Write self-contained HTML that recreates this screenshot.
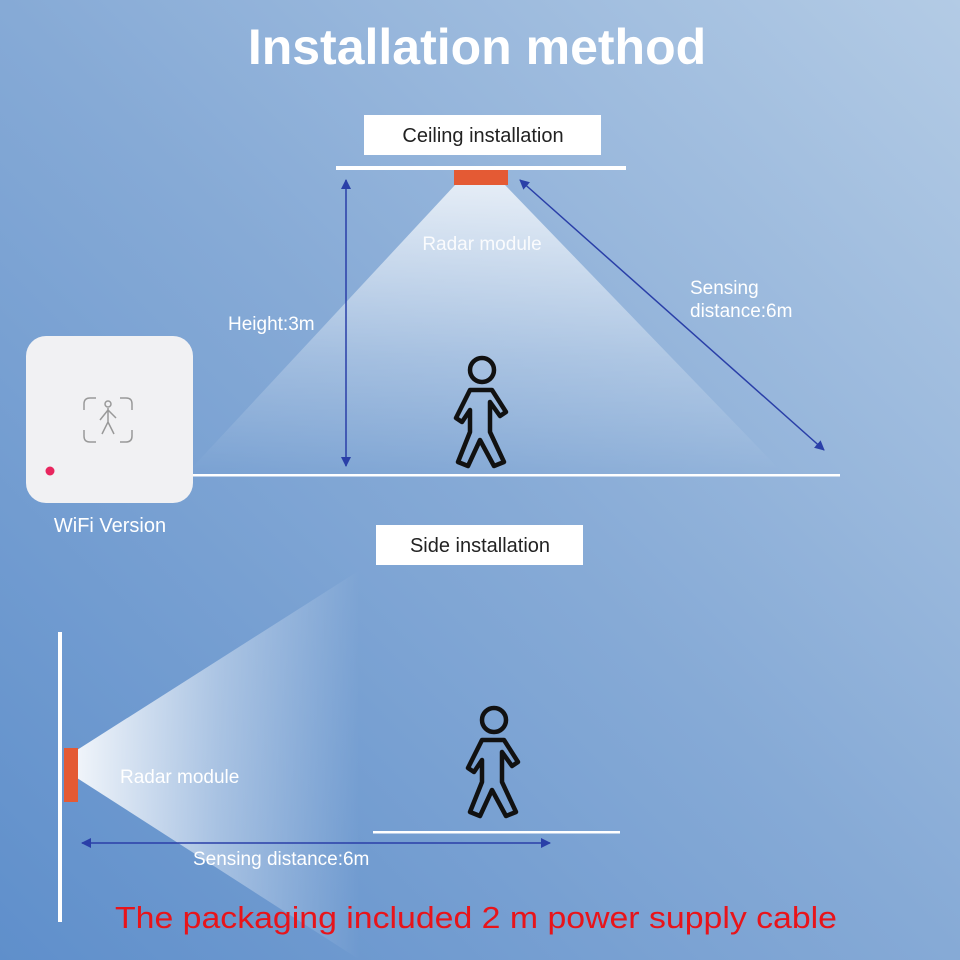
<!DOCTYPE html>
<html><head><meta charset="utf-8"><style>
html,body{margin:0;padding:0;width:960px;height:960px;overflow:hidden}
svg{display:block}
text{font-family:"Liberation Sans",sans-serif}
</style></head><body>
<svg width="960" height="960" viewBox="0 0 960 960" xmlns="http://www.w3.org/2000/svg">
<defs>
<linearGradient id="bg" x1="0" y1="1" x2="1" y2="0">
<stop offset="0" stop-color="#5f8fcb"/>
<stop offset="0.5" stop-color="#86aad6"/>
<stop offset="1" stop-color="#b3cbe5"/>
</linearGradient>
<linearGradient id="beam1" x1="0" y1="0" x2="0" y2="1">
<stop offset="0" stop-color="#ffffff" stop-opacity="0.75"/>
<stop offset="0.6" stop-color="#ffffff" stop-opacity="0.25"/>
<stop offset="1" stop-color="#ffffff" stop-opacity="0"/>
</linearGradient>
<linearGradient id="beam2" x1="77" y1="0" x2="360" y2="0" gradientUnits="userSpaceOnUse">
<stop offset="0" stop-color="#ffffff" stop-opacity="0.9"/>
<stop offset="0.5" stop-color="#ffffff" stop-opacity="0.4"/>
<stop offset="1" stop-color="#ffffff" stop-opacity="0"/>
</linearGradient>
<marker id="ar" markerWidth="10" markerHeight="10" refX="9" refY="5" orient="auto" markerUnits="userSpaceOnUse">
<path d="M0,0 L10,5 L0,10 z" fill="#2a3fa8"/>
</marker>
<marker id="al" markerWidth="10" markerHeight="10" refX="1" refY="5" orient="auto" markerUnits="userSpaceOnUse">
<path d="M10,0 L0,5 L10,10 z" fill="#2a3fa8"/>
</marker>
<g id="man" fill="none" stroke="#111" stroke-width="4.5" stroke-linejoin="round" stroke-linecap="round">
<circle cx="0" cy="0" r="12"/>
<path d="M-12,20 L10,20 L24,42 L18,46 L8,32 L8,62 L22,92 L12,96 L-2,70 L-14,96 L-24,92 L-12,62 L-12,40 L-20,52 L-26,48 Z"/>
</g>
</defs>
<rect width="960" height="960" fill="url(#bg)"/>
<text x="477" y="64" text-anchor="middle" font-size="50" font-weight="bold" fill="#fff">Installation method</text>
<rect x="364" y="115" width="237" height="40" fill="#fff"/>
<text x="483" y="142" text-anchor="middle" font-size="20" fill="#222">Ceiling installation</text>
<rect x="336" y="166" width="290" height="4" fill="#fff"/>
<polygon points="455,185 505,185 780,470 190,470" fill="url(#beam1)"/>
<rect x="454" y="170" width="54" height="15" fill="#e45a34"/>
<text x="482" y="250" text-anchor="middle" font-size="19" fill="#fff" opacity="0.9">Radar module</text>
<line x1="346" y1="180" x2="346" y2="466" stroke="#2a3fa8" stroke-width="1.5" marker-start="url(#al)" marker-end="url(#ar)"/>
<text x="228" y="330" font-size="19" fill="#fff">Height:3m</text>
<line x1="520" y1="180" x2="824" y2="450" stroke="#2a3fa8" stroke-width="1.5" marker-start="url(#al)" marker-end="url(#ar)"/>
<text x="690" y="294" font-size="19" fill="#fff">Sensing</text>
<text x="690" y="317" font-size="19" fill="#fff">distance:6m</text>
<rect x="190" y="474" width="650" height="2.5" fill="#fff"/>
<use href="#man" x="482" y="370"/>
<rect x="26" y="336" width="167" height="167" rx="20" fill="#f1f1f3"/>
<g fill="none" stroke="#999" stroke-width="1.5">
<path d="M84,410 v-6 q0,-6 6,-6 h6 M120,398 h6 q6,0 6,6 v6 M84,430 v6 q0,6 6,6 h6 M120,442 h6 q6,0 6,-6 v-6"/>
<circle cx="108" cy="404" r="3"/>
<path d="M108,408 v14 l-6,12 M108,422 l6,12 M100,420 l8,-10 l8,8"/>
</g>
<circle cx="50" cy="471" r="4.5" fill="#e8265e"/>
<text x="110" y="532" text-anchor="middle" font-size="20" fill="#fff">WiFi Version</text>
<rect x="376" y="525" width="207" height="40" fill="#fff"/>
<text x="480" y="552" text-anchor="middle" font-size="20" fill="#222">Side installation</text>
<rect x="58" y="632" width="4" height="290" fill="#fff"/>
<polygon points="77,750 360,570 360,960 77,778" fill="url(#beam2)"/>
<rect x="64" y="748" width="14" height="54" fill="#e45a34"/>
<text x="120" y="783" font-size="19" fill="#fff">Radar module</text>
<use href="#man" x="494" y="720"/>
<rect x="373" y="831" width="247" height="2.5" fill="#fff"/>
<line x1="82" y1="843" x2="550" y2="843" stroke="#2a3fa8" stroke-width="1.5" marker-start="url(#al)" marker-end="url(#ar)"/>
<text x="193" y="865" font-size="19" fill="#fff">Sensing distance:6m</text>
<text x="476" y="928" text-anchor="middle" font-size="31" fill="#e8141a" textLength="722" lengthAdjust="spacingAndGlyphs">The packaging included  2 m power supply cable</text>
</svg>
</body></html>
